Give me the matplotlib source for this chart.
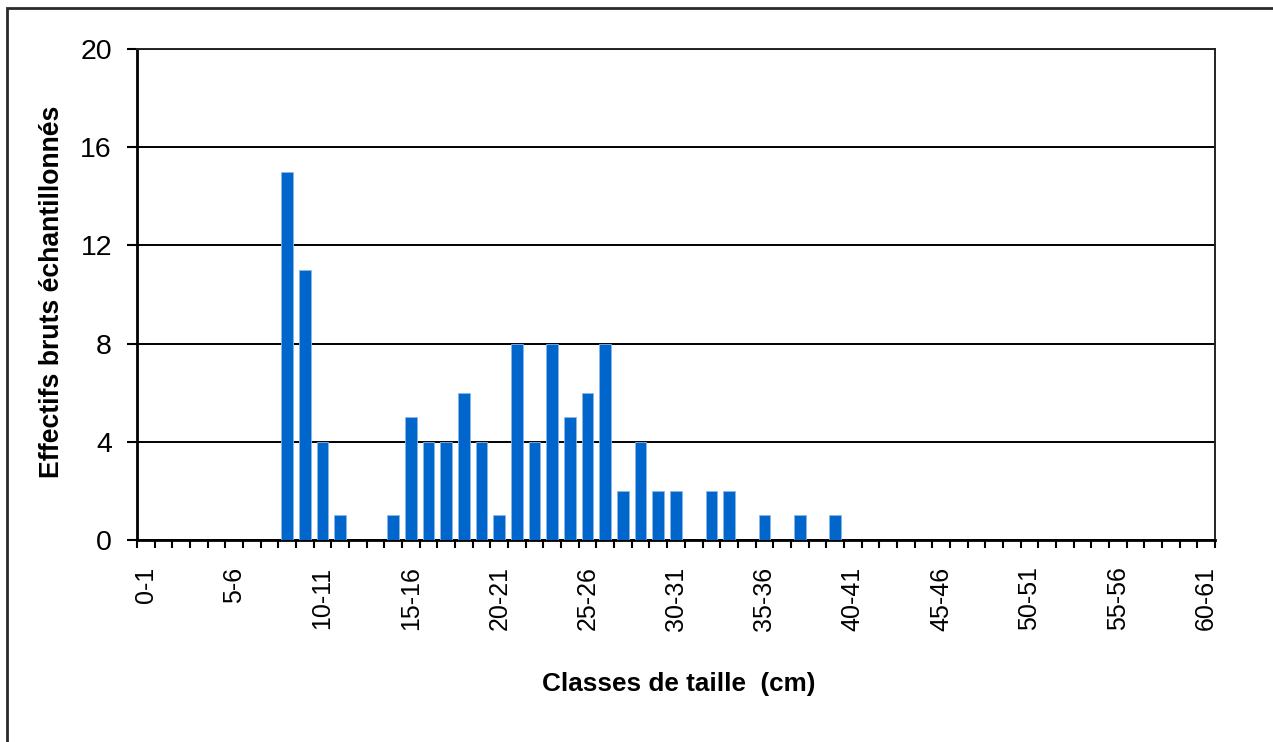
import matplotlib
matplotlib.use("Agg")
import matplotlib.pyplot as plt
from matplotlib.patches import Rectangle

# size classes 0-1 ... 60-61 and raw counts per class
classes = [f"{i}-{i + 1}" for i in range(61)]
counts = [0, 0, 0, 0, 0, 0, 0, 0, 15, 11,
          4, 1, 0, 0, 1, 5, 4, 4, 6, 4,
          1, 8, 4, 8, 5, 6, 8, 2, 4, 2,
          2, 0, 2, 2, 0, 1, 0, 1, 0, 1,
          0, 0, 0, 0, 0, 0, 0, 0, 0, 0,
          0, 0, 0, 0, 0, 0, 0, 0, 0, 0,
          0]
y_ticks = [0, 4, 8, 12, 16, 20]

BAR = "#0066CC"
plt.rcParams["font.family"] = ["Liberation Sans", "DejaVu Sans"]

fig = plt.figure(figsize=(12.73, 7.42), dpi=100, facecolor="white")
W, H = 1273, 742
ax = fig.add_axes([137 / W, 1 - 540 / H, (1215 - 137) / W, (540 - 49) / H])

x = list(range(len(classes)))
ax.bar(x, counts, width=0.66, color=BAR, edgecolor="#8ab8e6", linewidth=0.6, zorder=3)

ax.set_xlim(-0.5, len(classes) - 0.5)
ax.set_ylim(0, 20)

# horizontal gridlines
ax.set_yticks(y_ticks)
ax.yaxis.grid(True, color="black", linewidth=1.4, zorder=1)
ax.set_axisbelow(True)
ax.tick_params(axis="y", direction="out", length=7, width=1.5, pad=11, labelsize=20.5)

# tick marks on class boundaries, labels every 5 classes
ax.set_xticks([i - 0.5 for i in range(len(classes) + 1)])
ax.set_xticklabels([])
ax.tick_params(axis="x", which="major", direction="out", length=6, width=1.5)
lab_pos = x[::5]
ax.set_xticks(lab_pos, minor=True)
ax.set_xticklabels([classes[i] for i in lab_pos], minor=True, rotation=90)
ax.tick_params(axis="x", which="minor", length=0, pad=19, labelsize=18)

for side in ["left", "bottom"]:
    ax.spines[side].set_linewidth(2)
    ax.spines[side].set_color("black")
for side in ["top", "right"]:
    ax.spines[side].set_linewidth(1.4)
    ax.spines[side].set_color("#222222")

fig.text(52 / W, 1 - 292 / H, "Effectifs bruts échantillonnés", rotation=90,
         ha="center", va="center", fontsize=19.2, fontweight="bold")
fig.text(679 / W, 1 - 684 / H, "Classes de taille  (cm)",
         ha="center", va="center", fontsize=18.8, fontweight="bold")

# outer chart frame (runs off the right and bottom edges)
fig.patches.append(Rectangle((7 / W, -0.05), 1.05, 1.05 - 8 / H,
                             transform=fig.transFigure, fill=False,
                             edgecolor="#2a2a2a", linewidth=2, clip_on=False))

fig.savefig("out.png", dpi=100, facecolor="white")
